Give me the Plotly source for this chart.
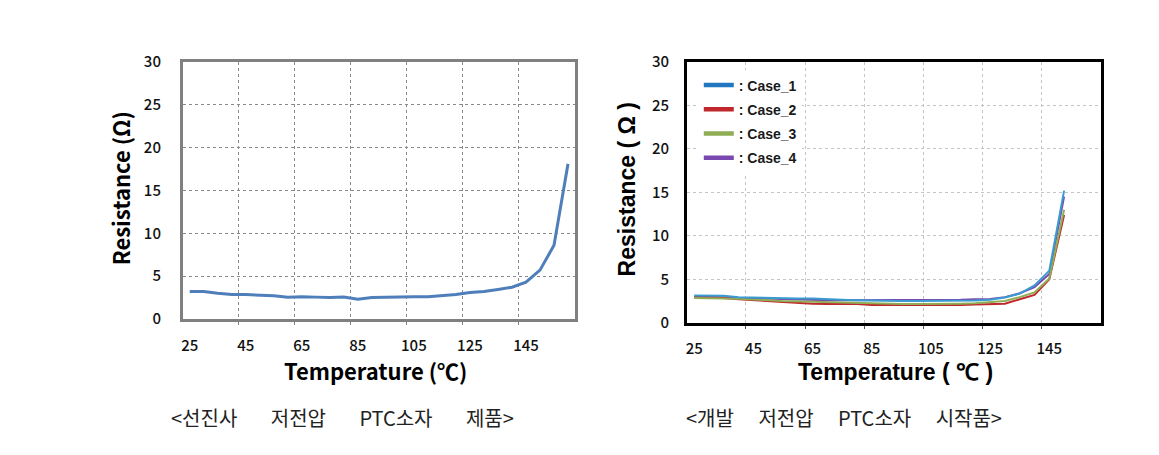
import plotly.graph_objects as go

# ---------------- data ----------------
temp_left = [25, 30, 35, 40, 45, 50, 55, 60, 65, 70, 75, 80, 85, 90, 95, 100,
             105, 110, 115, 120, 125, 130, 135, 140, 145, 150, 155, 160]
res_left = [3.2, 3.2, 3.0, 2.85, 2.85, 2.8, 2.7, 2.55, 2.6, 2.55, 2.5, 2.55, 2.3, 2.5,
            2.55, 2.6, 2.6, 2.6, 2.7, 2.85, 3.1, 3.2, 3.45, 3.7, 4.3, 5.7, 8.6, 18.1]

temp_right = [25, 30, 35, 40, 45, 50, 55, 60, 65, 70, 75, 80, 85, 90, 95, 100,
              105, 110, 115, 120, 125, 130, 135, 140, 145, 150]
case_1 = [3.15, 3.15, 3.1, 2.95, 2.9, 2.85, 2.8, 2.8, 2.8, 2.7, 2.65, 2.6, 2.55, 2.5,
          2.5, 2.5, 2.5, 2.5, 2.5, 2.55, 2.65, 2.9, 3.35, 4.3, 6.0, 15.2]
case_2 = [2.95, 2.9, 2.85, 2.7, 2.6, 2.5, 2.4, 2.25, 2.2, 2.15, 2.15, 2.15, 2.05, 2.05,
          2.0, 2.0, 2.0, 2.0, 2.05, 2.1, 2.15, 2.2, 2.7, 3.2, 5.0, 12.4]
case_3 = [2.85, 2.85, 2.8, 2.75, 2.7, 2.6, 2.5, 2.45, 2.4, 2.35, 2.3, 2.3, 2.25, 2.2,
          2.15, 2.15, 2.15, 2.15, 2.2, 2.25, 2.35, 2.5, 2.95, 3.5, 5.1, 13.0]
case_4 = [3.0, 3.0, 2.95, 2.85, 2.8, 2.75, 2.7, 2.65, 2.65, 2.6, 2.6, 2.6, 2.6, 2.6,
          2.6, 2.6, 2.6, 2.65, 2.65, 2.7, 2.75, 2.95, 3.4, 4.1, 5.6, 14.5]
case_names = ["Case_1", "Case_2", "Case_3", "Case_4"]

x_ticks = [25, 45, 65, 85, 105, 125, 145]
x_grid = [42.5, 62.5, 82.5, 102.5, 122.5, 142.5]
y_ticks = [0, 5, 10, 15, 20, 25, 30]

SP_L = "\u2003\u00a0\u00a0\u00a0"
SP_R = "\u2003\u00a0"
caption_left = "<선진사" + SP_L + "저전압" + SP_L + "PTC소자" + SP_L + "제품>"
caption_right = "<개발" + SP_R + "저전압" + SP_R + "PTC소자" + SP_R + "시작품>"

# ---------------- styles ----------------
# the page body adds an 8px margin on every side; size the figure to fit inside
OFF = 8
W, H = 1159 - 2 * OFF, 455 - 2 * OFF
line_colors = {"Case_1": "#3a9bd0", "Case_2": "#c0282d", "Case_3": "#8fad55", "Case_4": "#7848b0"}
legend_colors = {"Case_1": "#2277c0", "Case_2": "#c0282d", "Case_3": "#8fad55", "Case_4": "#7848b0"}
TICK_FONT = dict(family="Noto Sans CJK KR", size=15, color="#111111", weight=500)


def px_x(p):
    return (p - OFF) / W


def px_y(p):
    return (H - (p - OFF)) / H


fig = go.Figure()

# left chart
fig.add_trace(go.Scatter(x=temp_left, y=res_left, mode="lines",
                         line=dict(color="#4f7fbb", width=3),
                         showlegend=False, xaxis="x", yaxis="y"))

# right chart (draw order so that Case_1 is on top)
series = {"Case_1": case_1, "Case_2": case_2, "Case_3": case_3, "Case_4": case_4}
for name in ["Case_4", "Case_2", "Case_3", "Case_1"]:
    fig.add_trace(go.Scatter(x=temp_right, y=series[name], mode="lines",
                             line=dict(color=line_colors[name], width=2),
                             showlegend=False, xaxis="x2", yaxis="y2"))
# legend entries
for i, name in enumerate(case_names):
    fig.add_trace(go.Scatter(x=[None], y=[None], mode="lines", name=": " + name,
                             legendgroup=f"g{i}",
                             line=dict(color=legend_colors[name], width=4.5),
                             xaxis="x2", yaxis="y2"))

common_x = dict(range=[22.5, 162.5], tickmode="array", tickvals=x_ticks,
                ticks="", showgrid=False, zeroline=False, tickfont=TICK_FONT,
                mirror=True, showline=True)
common_y = dict(range=[0, 30], tickmode="array", tickvals=y_ticks, ticks="",
                zeroline=False, tickfont=TICK_FONT, mirror=True, showline=True)

fig.update_layout(
    width=W, height=H,
    margin=dict(l=0, r=0, t=0, b=0),
    paper_bgcolor="white", plot_bgcolor="white",
    xaxis=dict(common_x, domain=[px_x(181), px_x(574)], anchor="y",
               linecolor="#808080", linewidth=2.5, ticklabelstandoff=11,
               minor=dict(tickmode="array", tickvals=x_grid, showgrid=True,
                          gridcolor="#8a8a8a", griddash="dot", gridwidth=1,
                          ticks="outside", ticklen=3, tickcolor="#808080")),
    yaxis=dict(common_y, domain=[px_y(322), px_y(52)], anchor="x",
               linecolor="#808080", linewidth=2.5, ticklabelstandoff=16,
               showgrid=True, gridcolor="#8a8a8a", griddash="dot", gridwidth=1),
    xaxis2=dict(common_x, domain=[px_x(686), px_x(1101)], anchor="y2",
                linecolor="black", linewidth=2.5, ticklabelstandoff=10,
                minor=dict(tickmode="array", tickvals=x_grid, showgrid=True,
                           gridcolor="#c4c4c4", griddash="dot", gridwidth=1,
                           ticks="outside", ticklen=3, tickcolor="#555")),
    yaxis2=dict(common_y, domain=[px_y(326), px_y(52)], anchor="x2",
                linecolor="black", linewidth=2.5, ticklabelstandoff=12,
                showgrid=True, gridcolor="#c4c4c4", griddash="dot", gridwidth=1),
    legend=dict(x=px_x(698), y=px_y(60), xanchor="left", yanchor="top",
                bgcolor="white", borderwidth=0, tracegroupgap=3,
                font=dict(family="Liberation Sans", size=14, color="#1a1a1a", weight="bold")),
)

ann = []


def add_text(text, x, y, font, angle=0):
    ann.append(dict(text=text, x=px_x(x), y=px_y(y), xref="paper", yref="paper",
                    xanchor="center", yanchor="middle", textangle=angle,
                    showarrow=False, font=font))


TITLE_FONT = dict(family="Noto Sans CJK KR", size=22, color="black", weight="bold")
TITLE_FONT2 = dict(family="Liberation Sans", size=23, color="black", weight="bold")
CAP_FONT = dict(family="Noto Sans CJK KR", size=20, color="#222")
add_text("Resistance (Ω)", 118, 185, TITLE_FONT, -90)
add_text("Temperature (℃)", 374, 376, TITLE_FONT)
add_text("Resistance ( Ω )", 627, 186, TITLE_FONT2, -90)
add_text("Temperature ( ℃ )", 895, 378, TITLE_FONT2)
add_text(caption_left, 341, 425, CAP_FONT)
add_text(caption_right, 843, 425, CAP_FONT)
fig.update_layout(annotations=ann)

fig.write_html("out.html")
